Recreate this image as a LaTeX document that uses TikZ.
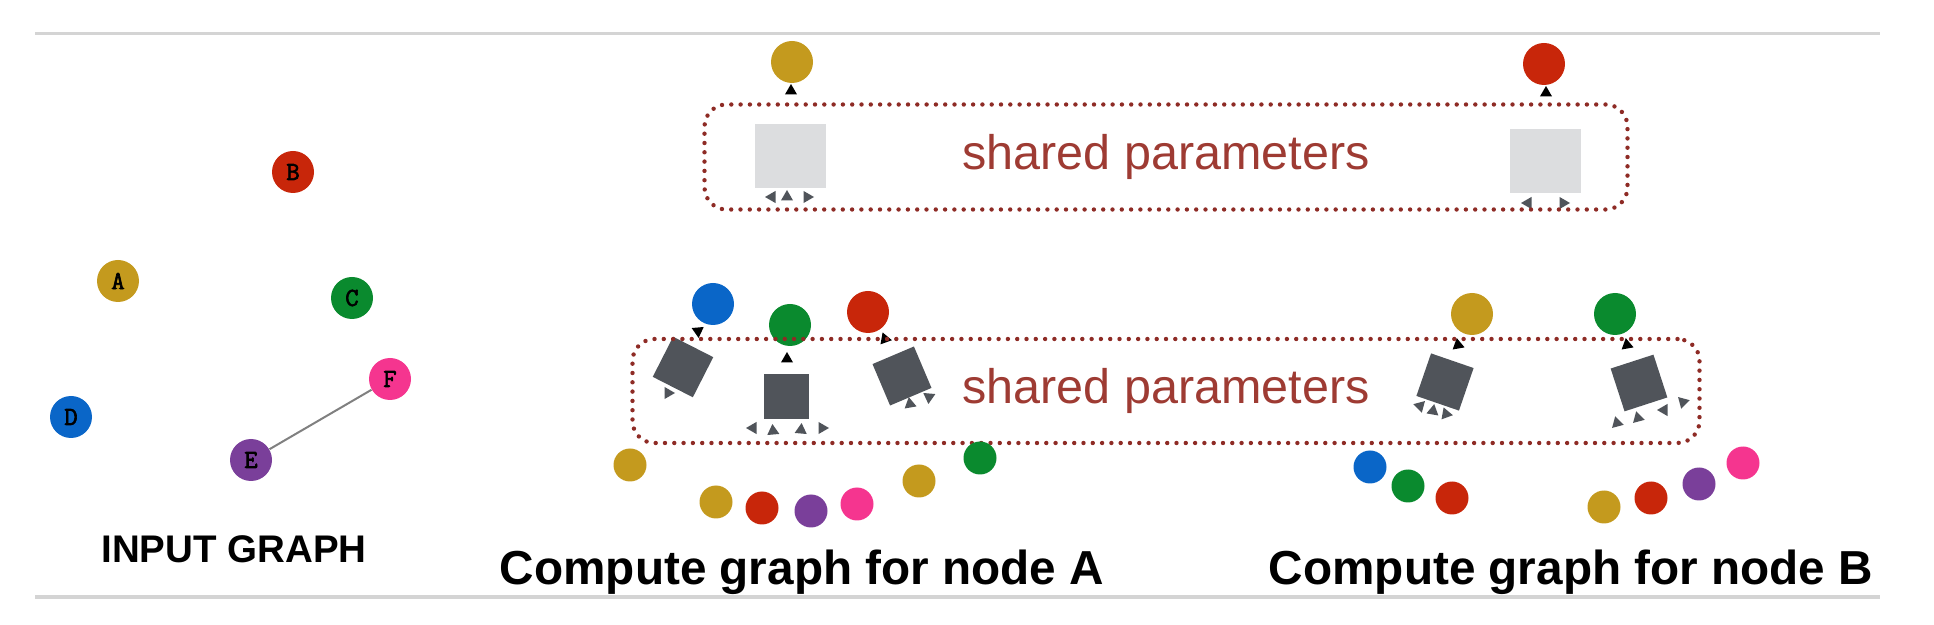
\documentclass[tikz,border=0pt]{standalone}
\usepackage{fontspec}
\setmainfont{Liberation Sans}
\newfontfamily\monofont{Latin Modern Mono}[FakeBold=2.5]
\usetikzlibrary{shapes.geometric}

\definecolor{gold}{HTML}{C49A1E}
\definecolor{nred}{HTML}{C8260A}
\definecolor{ngreen}{HTML}{0A8A2E}
\definecolor{npink}{HTML}{F5358F}
\definecolor{nblue}{HTML}{0A66C8}
\definecolor{npurple}{HTML}{7A3F9A}
\definecolor{slate}{HTML}{50545A}
\definecolor{shell}{HTML}{DCDDDF}
\definecolor{dots}{HTML}{8E2B25}
\definecolor{wording}{HTML}{9E3B33}
\definecolor{rule}{HTML}{D4D4D4}

\begin{document}
\begin{tikzpicture}[x=0.5pt, y=-0.5pt,
		vertex/.style={circle, fill=#1, minimum size=21pt, inner sep=0pt, font=\monofont\fontsize{13}{13}\selectfont},
		blob/.style={circle, fill=#1, minimum size=16.5pt, inner sep=0pt},
		layerbox/.style={fill=slate, minimum size=22.5pt, inner sep=0pt},
		shellbox/.style={fill=shell, minimum width=35.5pt, minimum height=32pt, inner sep=0pt},
		arrowhead/.style={regular polygon, regular polygon sides=3, fill=#1, minimum size=7pt, inner sep=0pt},
		arrowhead/.default=slate,
		shared/.style={draw=dots, line width=2.2pt, dash pattern=on 0pt off 4.65pt, line cap=round, rounded corners=11pt, text=wording, font=\fontsize{24.25}{25}\selectfont},
		title/.style={anchor=base, font=\bfseries\fontsize{23.85}{24}\selectfont}]
	
	\useasboundingbox (0,0) rectangle (1934,625);
	
	% rules
	\draw[rule, line width=1.5pt] (35,34) -- (1880,34);
	\draw[rule, line width=1.5pt] (35,597) -- (1880,597);
	
	% input graph
	\node[vertex=gold] (A) at (118,281) {A};
	\node[vertex=nred] (B) at (293,172) {B};
	\node[vertex=ngreen] (C) at (352,298) {C};
	\node[vertex=nblue] (D) at (71,417) {D};
	\node[vertex=npurple] (E) at (251,460) {E};
	\node[vertex=npink] (F) at (390,379) {F};
	\draw[gray, line width=1pt] (E) -- (F);
	\node[title, font=\bfseries\fontsize{19.25}{20}\selectfont] (inputtitle) at (234,563) {INPUT GRAPH};
	
	% upper layer
	\node[vertex=gold] (outA) at (792,62) {};
	\node[vertex=nred] (outB) at (1544,64) {};
	\node[shellbox] (shellA) at (790,156) {};
	\node[shellbox] (shellB) at (1545,161) {};
	\node[arrowhead=black] (hA) at (791,91) {};
	\node[arrowhead=black] (hB) at (1546,93) {};
	\node[arrowhead, rotate=90] (sA1) at (772,197) {};
	\node[arrowhead] (sA2) at (787,197) {};
	\node[arrowhead, rotate=-90] (sA3) at (807,197) {};
	\node[arrowhead, rotate=90] (sB1) at (1528,203) {};
	\node[arrowhead, rotate=-90] (sB2) at (1563,203) {};
	\node[shared, minimum width=461.5pt, minimum height=52.5pt] (upper) at (1166,157) {shared parameters};
	
	% lower layer, node A
	\node[vertex=nblue] (midD) at (713,304) {};
	\node[vertex=ngreen] (midC) at (790,325) {};
	\node[vertex=nred] (midB) at (868,312) {};
	\node[layerbox, rotate=-27] (boxD) at (683,367) {};
	\node[layerbox] (boxC) at (786,397) {};
	\node[layerbox, rotate=23] (boxB) at (902,376) {};
	\node[arrowhead=black, rotate=65] (hD) at (698,331) {};
	\node[arrowhead=black] (hC) at (787,359) {};
	\node[arrowhead=black, rotate=-100] (hBB) at (885,339) {};
	\node[arrowhead, rotate=30] (tD1) at (668,393) {};
	\node[arrowhead, rotate=90] (tC1) at (753,428) {};
	\node[arrowhead, rotate=5] (tC2) at (773,431) {};
	\node[arrowhead, rotate=-5] (tC3) at (801,430) {};
	\node[arrowhead, rotate=-90] (tC4) at (822,428) {};
	\node[arrowhead, rotate=10] (tB1) at (910,404) {};
	\node[arrowhead, rotate=-65] (tB2) at (929,397) {};
	
	% lower layer, node B
	\node[vertex=gold] (midA) at (1472,314) {};
	\node[vertex=ngreen] (midCC) at (1615,314) {};
	\node[layerbox, rotate=-19] (boxA) at (1445,382) {};
	\node[layerbox, rotate=18] (boxCC) at (1639,383) {};
	\node[arrowhead=black, rotate=-110] (hA2) at (1458,345) {};
	\node[arrowhead=black, rotate=-110] (hCC) at (1627,345) {};
	\node[arrowhead, rotate=75] (tA1) at (1420,406) {};
	\node[arrowhead, rotate=-10] (tA2) at (1433,411) {};
	\node[arrowhead, rotate=-100] (tA3) at (1446,414) {};
	\node[arrowhead, rotate=15] (tCC1) at (1617,423) {};
	\node[arrowhead, rotate=15] (tCC2) at (1638,418) {};
	\node[arrowhead, rotate=-30] (tCC3) at (1664,410) {};
	\node[arrowhead, rotate=-75] (tCC4) at (1683,402) {};
	\node[shared, minimum width=533.5pt, minimum height=52pt] (lower) at (1166,391) {shared parameters};
	
	% inputs
	\foreach \c/\x/\y/\n in {gold/630/465/a1, gold/716/502/a2, nred/762/508/a3, npurple/811/511/a4,
			npink/857/504/a5, gold/919/481/a6, ngreen/980/458/a7,
			nblue/1370/467/b1, ngreen/1408/486/b2, nred/1452/498/b3, gold/1604/507/b4,
			nred/1651/498/b5, npurple/1699/484/b6, npink/1743/463/b7}
		\node[blob=\c] (\n) at (\x,\y) {};
	
	\node[title] (titleA) at (802,585) {Compute graph for node A};
	\node[title] (titleB) at (1571,585) {Compute graph for node B};
\end{tikzpicture}
\end{document}
